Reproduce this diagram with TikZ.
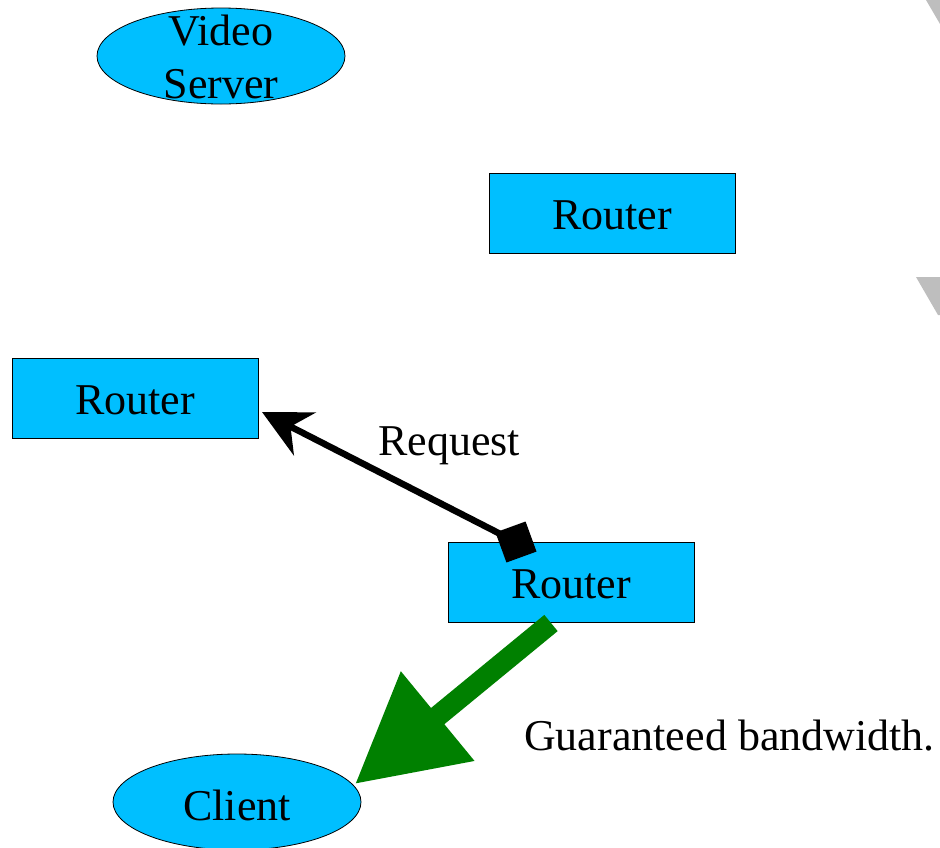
\documentclass[tikz,border=0pt]{standalone}
\usepackage{fontspec}
\setmainfont{Liberation Serif}
\usetikzlibrary{shapes.geometric,arrows.meta}
\definecolor{boxblue}{RGB}{0,191,255}
\definecolor{arrowgreen}{RGB}{0,128,0}
\definecolor{edgegray}{RGB}{190,190,190}
\begin{document}
\begin{tikzpicture}[x=1pt,y=-1pt,
  every node/.style={font=\fontsize{44}{53}\selectfont},
  router/.style={rectangle,draw=black,line width=0.8pt,fill=boxblue,
    minimum width=246pt,minimum height=80pt,inner sep=0pt},
  host/.style={ellipse,draw=black,line width=0.8pt,fill=boxblue,
    minimum width=248pt,minimum height=96pt,inner sep=0pt},
  plain/.style={inner sep=0pt}]
\useasboundingbox (0,0) rectangle (940,847);

% partly visible grey shapes at the right edge
\fill[edgegray] (926,0) -- (940,0) -- (940,24) -- cycle;
\fill[edgegray] (916,277) -- (940,277) -- (940,315) -- (938,315) -- cycle;

% hosts
\node[host] (vs) at (221,56) {};
\node[plain,align=center] (vstext) at (221,57) {Video\\Server};
\node[host] (cl) at (237,802) {};
\node[plain] (cltext) at (237,805) {Client};

% routers
\node[router] (rt) at (612,213) {};
\node[plain] (rttext) at (612,215) {Router};
\node[router] (rl) at (135,398) {};
\node[plain] (rltext) at (135,400) {Router};
\node[router] (rb) at (571,582) {};
\node[plain] (rbtext) at (571,584) {Router};

% request from the lower router to the left router
\node[fill=black,minimum size=32pt,inner sep=0pt,rotate=20] (sq) at (516,542) {};
\coordinate (reqtip) at (262,412);
\draw[line width=6.5pt,-{Stealth[length=48pt,width=48pt,inset=16pt]}] (sq.center) -- (reqtip);
\node[plain,anchor=base] (reqtext) at (449,455) {Request};

% guaranteed stream towards the client
\coordinate (bwstart) at (551,623);
\coordinate (bwtip) at (355,784);
\draw[arrowgreen,line width=21pt,-{Triangle[length=107pt,width=110pt]}] (bwstart) -- (bwtip);
\node[plain,anchor=base west] (bwtext) at (524,750) {Guaranteed bandwidth.};
\end{tikzpicture}
\end{document}
